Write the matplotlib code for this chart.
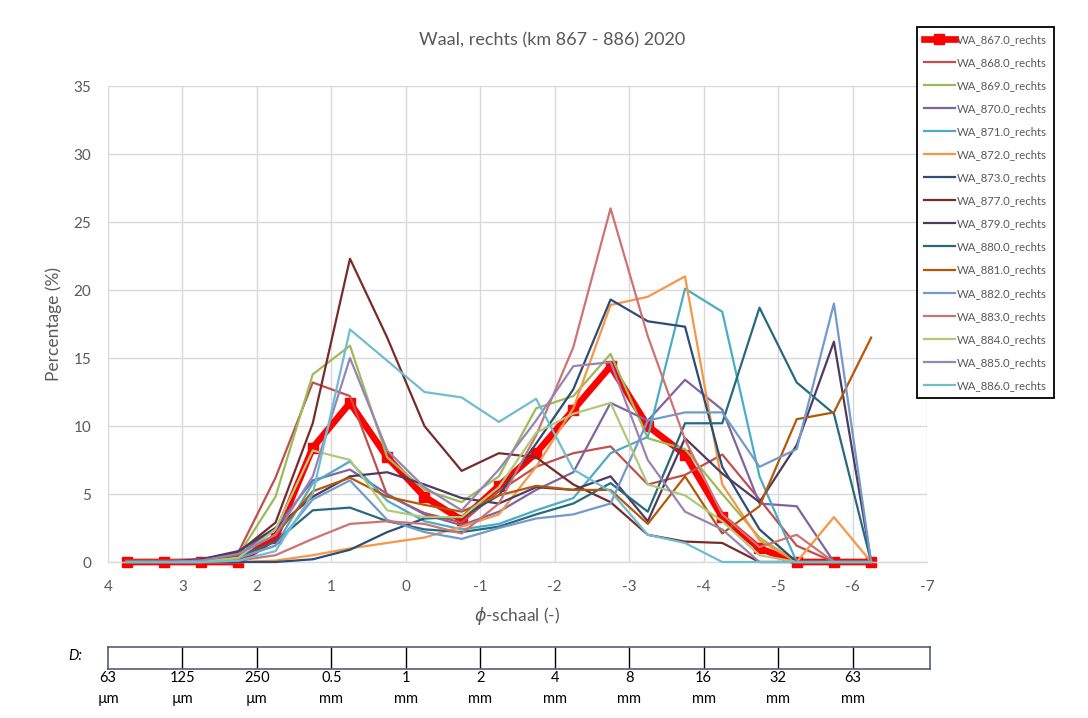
import matplotlib
matplotlib.use('Agg')
import matplotlib.pyplot as plt
import matplotlib.transforms as mtransforms

plt.rcParams['font.family'] = ['Lato', 'DejaVu Sans']
plt.rcParams['axes.unicode_minus'] = False

# ---------------- data ----------------
phi = [3.75, 3.25, 2.75, 2.25, 1.75, 1.25, 0.75, 0.25, -0.25, -0.75, -1.25,
       -1.75, -2.25, -2.75, -3.25, -3.75, -4.25, -4.75, -5.25, -5.75, -6.25]

wa_867 = [0, 0, 0, 0, 1.8, 8.4, 11.7, 7.7, 4.8, 3.1, 5.6, 8.0, 11.2, 14.4, 10.0, 7.9, 3.3, 1.0, 0, 0, 0]
wa_868 = [0.1, 0.1, 0.2, 0.7, 6.2, 13.2, 12.2, 4.9, 3.6, 2.9, 5.2, 7.0, 8.0, 8.5, 5.7, 6.4, 7.9, 4.6, 1.2, 0, 0]
wa_869 = [0, 0, 0.1, 0.5, 4.8, 13.8, 15.9, 7.7, 5.3, 4.4, 6.3, 11.3, 12.2, 15.3, 9.1, 8.3, 5.0, 1.8, 0, 0, 0]
wa_870 = [0, 0, 0.2, 0.5, 2.5, 6.0, 6.8, 5.0, 3.5, 2.7, 3.7, 5.3, 6.6, 11.7, 10.4, 13.4, 11.2, 4.3, 4.1, 0, 0]
wa_871 = [0, 0, 0, 0.3, 1.2, 5.8, 7.4, 4.5, 3.0, 2.4, 2.8, 3.8, 4.7, 8.0, 9.2, 20.1, 18.4, 6.3, 0, 0, 0]
wa_872 = [0, 0, 0, 0, 0.1, 0.5, 1.0, 1.4, 1.8, 2.6, 3.5, 7.0, 11.3, 18.9, 19.5, 21.0, 5.7, 1.6, 0, 3.3, 0]
wa_873 = [0, 0, 0, 0, 0, 0.2, 0.9, 2.2, 3.2, 3.3, 4.9, 8.7, 12.7, 19.3, 17.7, 17.3, 7.0, 2.4, 0, 0, 0]
wa_877 = [0, 0, 0.1, 0.7, 2.9, 10.2, 22.3, 16.5, 10.0, 6.7, 8.0, 7.7, 5.7, 4.4, 2.0, 1.5, 1.4, 0, 0, 0, 0]
wa_879 = [0, 0, 0.2, 0.8, 2.5, 4.8, 6.3, 6.6, 5.7, 4.7, 4.3, 5.5, 5.3, 6.3, 3.0, 9.1, 6.5, 4.4, 8.6, 16.2, 0]
wa_880 = [0, 0, 0.1, 0.4, 1.5, 3.8, 4.0, 3.0, 2.4, 2.2, 2.6, 3.5, 4.3, 5.8, 3.7, 10.2, 10.2, 18.7, 13.2, 10.9, 0]
wa_881 = [0, 0, 0.1, 0.5, 2.0, 5.2, 6.2, 4.8, 4.2, 3.7, 4.9, 5.6, 5.3, 5.3, 2.8, 6.3, 2.1, 4.1, 10.5, 11.0, 16.5]
wa_882 = [0, 0, 0, 0.3, 1.2, 4.6, 6.0, 3.1, 2.2, 1.7, 2.5, 3.2, 3.5, 4.3, 10.4, 11.0, 11.0, 7.0, 8.3, 19.0, 0]
wa_883 = [0, 0, 0, 0.1, 0.5, 1.7, 2.8, 3.0, 2.8, 2.1, 4.3, 9.3, 15.8, 26.0, 16.6, 9.0, 3.5, 1.1, 2.0, 0, 0]
wa_884 = [0, 0, 0, 0.3, 2.4, 8.2, 7.5, 3.8, 3.3, 3.3, 5.5, 9.5, 10.9, 11.7, 5.7, 4.9, 3.0, 0.5, 0, 0, 0]
wa_885 = [0, 0, 0.1, 0.6, 2.0, 6.3, 15.0, 8.2, 5.5, 3.8, 6.8, 10.4, 14.4, 14.7, 7.5, 3.7, 2.4, 0, 0, 0, 0]
wa_886 = [0, 0, 0, 0.1, 0.8, 5.0, 17.1, 14.8, 12.5, 12.1, 10.3, 12.0, 6.8, 5.2, 2.0, 1.4, 0, 0, 0, 0, 0]

series_names = ['WA_867.0_rechts', 'WA_868.0_rechts', 'WA_869.0_rechts', 'WA_870.0_rechts',
                'WA_871.0_rechts', 'WA_872.0_rechts', 'WA_873.0_rechts', 'WA_877.0_rechts',
                'WA_879.0_rechts', 'WA_880.0_rechts', 'WA_881.0_rechts', 'WA_882.0_rechts',
                'WA_883.0_rechts', 'WA_884.0_rechts', 'WA_885.0_rechts', 'WA_886.0_rechts']
series_values = [wa_867, wa_868, wa_869, wa_870, wa_871, wa_872, wa_873, wa_877,
                 wa_879, wa_880, wa_881, wa_882, wa_883, wa_884, wa_885, wa_886]
series_colors = ['#FF0000', '#C0504D', '#9BBB59', '#8064A2', '#4BACC6', '#F79646',
                 '#2C4D75', '#772C2A', '#4D3B62', '#276A7C', '#B65708', '#729ACA',
                 '#CD7371', '#AFC97A', '#9983B5', '#6FBDD1']

x_ticks = [4, 3, 2, 1, 0, -1, -2, -3, -4, -5, -6, -7]
y_ticks = [0, 5, 10, 15, 20, 25, 30, 35]

d_phi = [4, 3, 2, 1, 0, -1, -2, -3, -4, -5, -6]
d_values = ['63', '125', '250', '0.5', '1', '2', '4', '8', '16', '32', '63']
d_units = ['µm', 'µm', 'µm', 'mm', 'mm', 'mm', 'mm', 'mm', 'mm', 'mm', 'mm']

title = 'Waal, rechts (km 867 - 886) 2020'
txt = '#595959'
grid_c = '#D9D9D9'

# ---------------- figure ----------------
W, H = 1088, 718
fig = plt.figure(figsize=(W / 100, H / 100), dpi=100)
fig.patch.set_facecolor('white')

ax = fig.add_axes([108 / W, 1 - 562 / H, (927 - 108) / W, (562 - 86) / H])

for i, (name, vals, col) in enumerate(zip(series_names, series_values, series_colors)):
    if i == 0:
        ax.plot(phi, vals, color=col, lw=4.8, marker='s', ms=7.8, label=name,
                zorder=2, clip_on=False, solid_joinstyle='miter')
    else:
        ax.plot(phi, vals, color=col, lw=1.6, label=name, zorder=3 + i * 0.01,
                clip_on=False)

ax.set_xlim(4, -7)
ax.set_ylim(0, 35)
ax.set_xticks(x_ticks)
ax.set_xticklabels([str(v) for v in x_ticks])
ax.set_yticks(y_ticks)
ax.grid(True, color=grid_c, lw=1.0, zorder=0)
ax.set_axisbelow(True)
for s in ['top', 'right', 'left']:
    ax.spines[s].set_visible(False)
ax.spines['bottom'].set_color(grid_c)
ax.spines['bottom'].set_linewidth(1.0)
ax.tick_params(length=0, labelsize=11, colors=txt, pad=13)
ax.tick_params(axis='y', pad=12)

ax.set_ylabel('Percentage (%)', fontsize=12.5, color=txt, labelpad=8)
ax.set_xlabel(r'$\phi$-schaal (-)', fontsize=12.5, color=txt, labelpad=8)

fig.text(552 / W, 1 - 40 / H, title, ha='center', va='center', fontsize=13, color=txt)

leg = ax.legend(loc='upper left', bbox_to_anchor=(917 / W, 1 - 27 / H),
                bbox_transform=fig.transFigure, fontsize=8.2, frameon=True,
                fancybox=False, edgecolor='black', framealpha=1,
                handlelength=2.7, handletextpad=0.2, labelspacing=1.06,
                borderpad=0.6, borderaxespad=0)
leg.get_frame().set_linewidth(1.3)
for t in leg.get_texts():
    t.set_color(txt)

# ---------------- D scale ----------------
dax = fig.add_axes([108 / W, 1 - 669 / H, (930 - 108) / W, (669 - 647) / H])
dax.set_xlim(4, 4 - (930 - 108) / ((927 - 108) / 11))
dax.set_ylim(0, 1)
dax.set_xticks([])
dax.set_yticks([])
for s in dax.spines.values():
    s.set_color('#44546A')
    s.set_linewidth(1.1)
dax.vlines(d_phi[1:], 0.05, 1, color='black', lw=1.0)
trans = mtransforms.blended_transform_factory(dax.transData, fig.transFigure)
for p, v, u in zip(d_phi, d_values, d_units):
    fig.text(p, 1 - 678 / H, v, transform=trans, ha='center', va='center',
             fontsize=10.5, color='black')
    fig.text(p, 1 - 699 / H, u, transform=trans, ha='center', va='center',
             fontsize=10.5, color='black')
fig.text(75 / W, 1 - 656 / H, 'D:', ha='center', va='center', fontsize=10.5,
         style='italic', color='black')

fig.savefig('out.png', dpi=100, facecolor='white')
